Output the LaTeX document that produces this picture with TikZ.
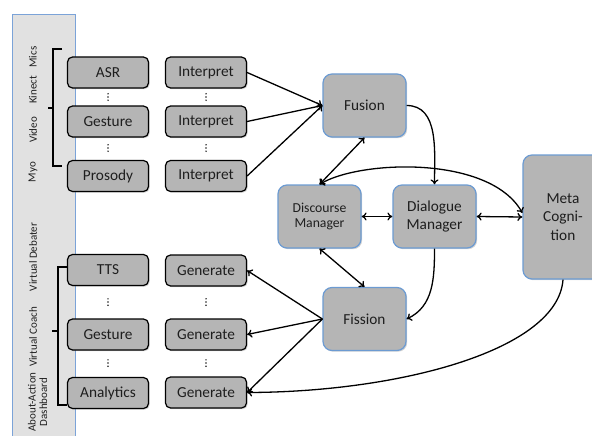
\documentclass[tikz,border=0pt]{standalone}
\usepackage{fontspec}
\setmainfont{Carlito}
\usetikzlibrary{arrows.meta,shadows}
\definecolor{boxgray}{HTML}{B5B5B5}
\definecolor{panelgray}{HTML}{E1E1E1}
\definecolor{panelblue}{HTML}{7BA3D8}
\definecolor{bigblue}{HTML}{6C9BD2}
\definecolor{txt}{HTML}{1E1E1E}
\begin{document}
\begin{tikzpicture}[x=1pt,y=-1pt,
  shadowed/.style={drop shadow={shadow xshift=1.2pt,shadow yshift=-1.2pt,opacity=0.35}},
  smallbox/.style={draw=black, line width=1.2pt, fill=boxgray, rounded corners=5pt,
    minimum width=81pt, minimum height=31pt, inner sep=0pt,
    font=\fontsize{15.3}{17}\selectfont, text=txt, shadowed},
  bigbox/.style={draw=bigblue, line width=1.2pt, fill=boxgray, rounded corners=9pt,
    minimum width=83pt, minimum height=63pt, inner sep=0pt, align=center,
    font=\fontsize{15.3}{17.5}\selectfont, text=txt, shadowed},
  arr/.style={line width=1.3pt, -{To[length=5pt,width=8pt]}},
  darr/.style={line width=1.3pt, {To[length=5pt,width=8pt]}-{To[length=5pt,width=8pt]}},
  lbl/.style={rotate=90, font=\fontsize{11}{11.5}\selectfont, text=txt, align=center, inner sep=0pt},
  brack/.style={line width=1.4pt},
]
\useasboundingbox (0,0) rectangle (592,436);
% left panel
\draw[draw=panelblue, fill=panelgray, line width=0.8pt] (12,14) rectangle (75,442);

% side labels
\node[lbl] (lmics) at (33,57) {Mics};
\node[lbl] (lkin) at (33,90) {Kinect};
\node[lbl] (lvid) at (33,130) {Video};
\node[lbl] (lmyo) at (33,172) {Myo};
\node[lbl] (lvd) at (33,257) {Virtual Debater};
\node[lbl] (lvc) at (33,337) {Virtual Coach};
\node[lbl] (laa) at (37.5,402) {About-Action\\Dashboard};

% brackets
\draw[brack] (62,49) -- (53,49) -- (53,166) -- (62,166);
\draw[brack] (48,108) -- (53,108);
\draw[brack] (67,267) -- (58,267) -- (58,405) -- (67,405);
\draw[brack] (52,331) -- (58,331);

% input column
\node[smallbox] (asr) at (108,72.5) {ASR};
\node[smallbox] (gin) at (108,121.5) {Gesture};
\node[smallbox] (pro) at (108,176) {Prosody};
\node[smallbox] (in1) at (206,72.5) {Interpret};
\node[smallbox] (in2) at (206,121.5) {Interpret};
\node[smallbox] (in3) at (206,176) {Interpret};
% output column
\node[smallbox] (tts) at (108,270) {TTS};
\node[smallbox] (gout) at (108,334.5) {Gesture};
\node[smallbox] (ana) at (108,393) {Analytics};
\node[smallbox] (ge1) at (206,270.5) {Generate};
\node[smallbox] (ge2) at (206,334.5) {Generate};
\node[smallbox] (ge3) at (206,392.5) {Generate};

% vertical dots
\foreach \x in {108,206}{
  \foreach \y in {97,148,302,363}{
    \fill[txt] (\x,\y-3.2) circle (0.8pt);
    \fill[txt] (\x,\y) circle (0.8pt);
    \fill[txt] (\x,\y+3.2) circle (0.8pt);
  }
}

% big boxes
\node[bigbox] (fus) at (364.5,105.5) {Fusion};
\node[bigbox, font=\fontsize{13.7}{15.5}\selectfont] (dis) at (319.5,216.5) {Discourse\\Manager};
\node[bigbox] (dia) at (434.5,216.5) {Dialogue\\Manager};
\node[bigbox] (fis) at (364.5,319) {Fission};
\node[bigbox, minimum width=80pt, minimum height=124pt, font=\fontsize{15.3}{18.5}\selectfont] (meta) at (563,217) {Meta\\Cogni-\\tion};

% connectors
\draw[arr] (in1.east) -- (fus.west);
\draw[arr] (in2.east) -- (fus.west);
\draw[arr] (in3.east) -- (fus.west);
\draw[darr] (fus.south) -- (dis.north);
\draw[arr] (fus.east) to[out=0,in=90] (dia.north);
\draw[darr] (dis.north) .. controls (360,160) and (490,155) .. ([yshift=4pt]meta.west);
\draw[darr] (dis.east) -- (dia.west);
\draw[darr] (dia.east) -- (meta.west);
\draw[darr] (dis.south) -- (fis.north);
\draw[arr] (dia.south) to[out=-90,in=25] (fis.east);
\draw[arr] (fis.west) -- (ge1.east);
\draw[arr] (fis.west) -- (ge2.east);
\draw[arr] (fis.west) -- (ge3.east);
\draw[arr] (meta.south) .. controls (558,350) and (400,392) .. (ge3.east);
\end{tikzpicture}
\end{document}
